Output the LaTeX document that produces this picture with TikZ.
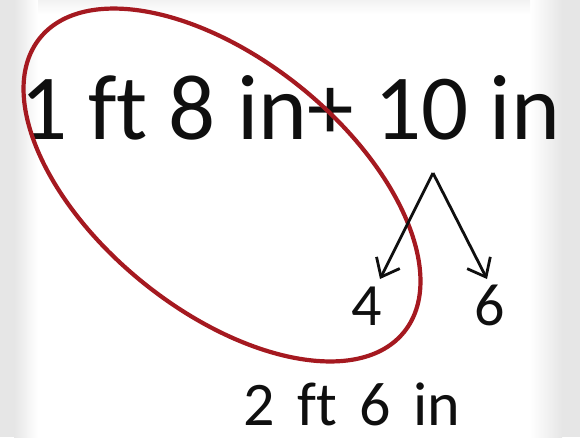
\documentclass[tikz,border=0pt]{standalone}
\usepackage{fontspec}
\setmainfont[Ligatures=NoCommon]{Carlito}
\newfontfamily\widefont[Ligatures=NoCommon,WordSpace=1.6]{Carlito}
\usetikzlibrary{arrows.meta,shapes.geometric}
\definecolor{ringred}{RGB}{165,25,32}
\definecolor{bggray}{RGB}{230,230,230}
\definecolor{ink}{RGB}{15,15,15}
\tikzset{
  bigtext/.style={inner sep=0pt, text=ink, font=\fontsize{93}{93}\selectfont},
  midtext/.style={inner sep=0pt, text=ink, font=\widefont\fontsize{62}{62}\selectfont},
  digit/.style={inner sep=0pt, text=ink, font=\fontsize{60}{60}\selectfont},
  splitarrow/.style={draw=ink, line width=2.8pt, -{Straight Barb[length=16pt,width=26pt,line width=2.8pt]}},
  ring/.style={draw=ringred, line width=4.2pt}
}
\begin{document}
\begin{tikzpicture}[x=1pt,y=-1pt]
\useasboundingbox (0,0) rectangle (580,437);
% background vignette
\fill[bggray] (0,0) rectangle (580,437);
\shade[left color=bggray, right color=white] (14,0) rectangle (38,437);
\fill[white] (38,0) rectangle (530,437);
\shade[left color=white, right color=bggray] (530,0) rectangle (562,437);
\shade[top color=black!5, bottom color=white] (38,0) rectangle (530,14);
% texts
\node[bigtext, anchor=base west] (top) at (20,139) {1 ft 8 in+ 10 in};
\node[digit, anchor=base] (four) at (367,325) {4};
\node[digit, anchor=base] (six) at (490,325) {6};
\node[midtext, anchor=base] (res) at (352,425) {2 ft 6 in};
% ring
\node[ring, ellipse, minimum width=468pt, minimum height=251pt, inner sep=0pt, rotate=-38.9] (loop) at (222,185) {};
% split arrows
\coordinate (apex) at (433,173);
\coordinate (tipL) at (380,279);
\coordinate (tipR) at (487,279);
\draw[splitarrow] (apex) -- (tipL);
\draw[splitarrow] (apex) -- (tipR);
\end{tikzpicture}
\end{document}
